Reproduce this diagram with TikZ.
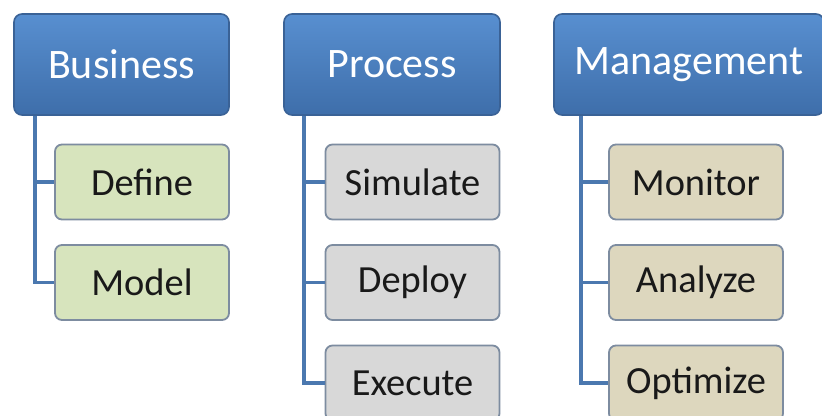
\documentclass[tikz,border=0pt]{standalone}
\usepackage{fontspec}
\setmainfont{Carlito}
\usetikzlibrary{positioning}

\definecolor{headblue}{RGB}{79,129,189}
\definecolor{headtop}{RGB}{88,143,208}
\definecolor{headbot}{RGB}{62,110,170}
\definecolor{headline}{RGB}{58,98,150}
\definecolor{linkblue}{RGB}{75,120,175}
\definecolor{greenbox}{RGB}{215,228,189}
\definecolor{graybox}{RGB}{216,216,216}
\definecolor{tanbox}{RGB}{221,215,190}
\definecolor{subline}{RGB}{125,140,160}

\begin{document}
\begin{tikzpicture}[x=0.5pt,y=-0.5pt,node distance=50.25pt,on grid,
	head/.style={rectangle,rounded corners=4pt,draw=headline,line width=0.8pt,
		top color=headtop,bottom color=headbot,text=white,
		minimum width=107.5pt,minimum height=50.5pt,font=\fontsize{21}{21}\selectfont},
	sub/.style={rectangle,rounded corners=3.5pt,draw=subline,line width=0.9pt,
		text=black!90,minimum width=87pt,minimum height=37.5pt,font=\fontsize{19.2}{19.2}\selectfont},
	link/.style={draw=linkblue,line width=1.8pt}]
	\useasboundingbox (0,0) rectangle (822,416);
	\clip (0,0) rectangle (822,416);
	% headers
	\node[head] (bus) at (121.5,64.5) {Business};
	\node[head,minimum width=108pt] (proc) at (392,64.5) {Process};
	\node[head,minimum width=135pt] (mgmt) at (689,64.5) {Management};
	% children
	\node[sub,fill=greenbox] (def) at (142,182) {Define};
	\node[sub,fill=greenbox,below=of def] (mod) {Model};
	\node[sub,fill=graybox] (sim) at (412.5,182) {Simulate};
	\node[sub,fill=graybox,below=of sim] (dep) {Deploy};
	\node[sub,fill=graybox,below=of dep] (exe) {Execute};
	\node[sub,fill=tanbox] (mon) at (696,182) {Monitor};
	\node[sub,fill=tanbox,below=of mon] (ana) {Analyze};
	\node[sub,fill=tanbox,below=of ana] (opt) {Optimize};
	% connectors
	\path[link] ([xshift=11pt]bus.south west) |- (def.west)
		([xshift=11pt]bus.south west) |- (mod.west);
	\path[link] ([xshift=10.5pt]proc.south west) |- (sim.west)
		([xshift=10.5pt]proc.south west) |- (dep.west)
		([xshift=10.5pt]proc.south west) |- (exe.west);
	\path[link] ([xshift=14pt]mgmt.south west) |- (mon.west)
		([xshift=14pt]mgmt.south west) |- (ana.west)
		([xshift=14pt]mgmt.south west) |- (opt.west);
\end{tikzpicture}
\end{document}
